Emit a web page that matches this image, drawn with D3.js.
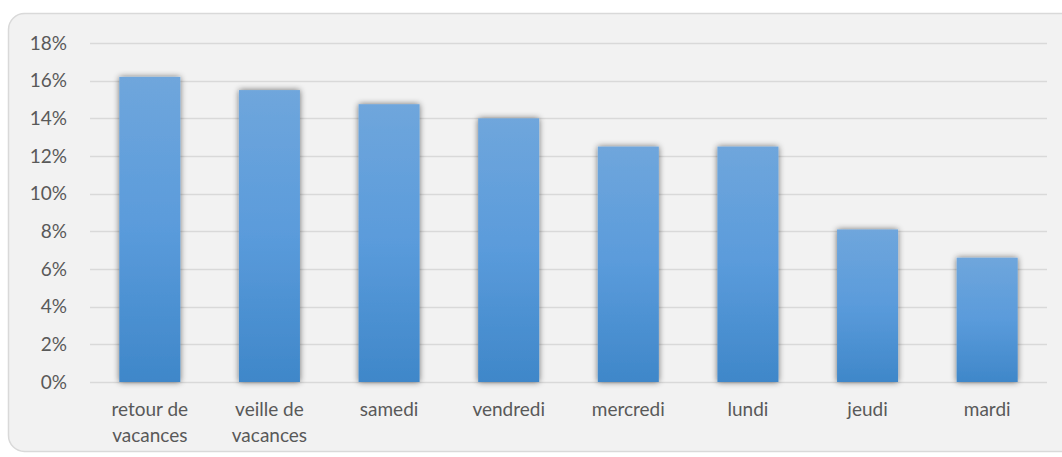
<!DOCTYPE html>
<html>
<head>
<meta charset="utf-8">
<script src="https://cdn.jsdelivr.net/npm/d3@7"></script>
<style>
body { margin: 0; background: #fff; }
svg { display: block; font-family: Lato, "Open Sans", sans-serif; }
</style>
</head>
<body>
<svg width="1062" height="457"></svg>
<script>
var categories = ["retour de vacances", "veille de vacances", "samedi", "vendredi", "mercredi", "lundi", "jeudi", "mardi"];
var values = [16.2, 15.5, 14.75, 14.0, 12.5, 12.5, 8.1, 6.6];
var tickValues = [0, 2, 4, 6, 8, 10, 12, 14, 16, 18];

var svg = d3.select("svg");
var margin = { top: 43, right: 15, bottom: 75, left: 90 },
	width = 1047 - margin.left,
	height = 382 - margin.top;

var defs = svg.append("defs");
var grad = defs.append("linearGradient")
	.attr("id", "barGrad")
	.attr("x1", 0).attr("y1", 0).attr("x2", 0).attr("y2", 1);
grad.append("stop").attr("offset", "0%").attr("stop-color", "#6fa6dc");
grad.append("stop").attr("offset", "50%").attr("stop-color", "#5a9bdb");
grad.append("stop").attr("offset", "100%").attr("stop-color", "#3f87c9");

var shadow = defs.append("filter").attr("id", "shadow")
	.attr("x", "-30%").attr("y", "-10%").attr("width", "160%").attr("height", "120%");
shadow.append("feGaussianBlur").attr("in", "SourceAlpha").attr("stdDeviation", 3);
shadow.append("feOffset").attr("dx", 0).attr("dy", 0).attr("result", "blur");
shadow.append("feComponentTransfer").append("feFuncA").attr("type", "linear").attr("slope", 0.55);
var merge = shadow.append("feMerge");
merge.append("feMergeNode");
merge.append("feMergeNode").attr("in", "SourceGraphic");

// panel
svg.append("rect")
	.attr("x", 8.5).attr("y", 13.5)
	.attr("width", 1070).attr("height", 438)
	.attr("rx", 16).attr("ry", 16)
	.attr("fill", "#f2f2f2")
	.attr("stroke", "#d9d9d9")
	.attr("stroke-width", 1.5);

var g = svg.append("g").attr("transform", "translate(" + margin.left + "," + margin.top + ")");

var xScale = d3.scaleBand()
	.domain(categories)
	.range([0, width])
	.paddingInner(0.49)
	.paddingOuter(0.245);

var yScale = d3.scaleLinear()
	.domain([0, 18])
	.range([height, 0]);

// gridlines
g.selectAll(".grid")
	.data(tickValues)
	.enter().append("line")
		.attr("class", "grid")
		.attr("x1", 0)
		.attr("x2", width)
		.attr("y1", function(d) { return Math.round(yScale(d)) + 0.5; })
		.attr("y2", function(d) { return Math.round(yScale(d)) + 0.5; })
		.attr("stroke", "#d9d9d9")
		.attr("stroke-width", 1.5);

var yAxis = d3.axisLeft(yScale)
	.tickValues(tickValues)
	.tickSize(0)
	.tickPadding(23)
	.tickFormat(function(d) { return d + "%"; });

var yG = g.append("g").call(yAxis);
yG.select(".domain").remove();
yG.selectAll("text")
	.attr("fill", "#595959")
	.style("font-size", "19px")
	.style("font-family", "Lato, 'Open Sans', sans-serif");

// bars
g.selectAll(".bar")
	.data(values)
	.enter().append("rect")
		.attr("class", "bar")
		.attr("x", function(d, i) { return xScale(categories[i]); })
		.attr("width", xScale.bandwidth())
		.attr("y", function(d) { return yScale(d); })
		.attr("height", function(d) { return height - yScale(d); })
		.attr("fill", "url(#barGrad)")
		.attr("filter", "url(#shadow)");

// category labels (wrapped)
var labels = g.selectAll(".cat")
	.data(categories)
	.enter().append("text")
		.attr("class", "cat")
		.attr("x", function(d) { return xScale(d) + xScale.bandwidth() / 2; })
		.attr("y", height + 34)
		.attr("text-anchor", "middle")
		.attr("fill", "#595959")
		.style("font-size", "19px");

labels.each(function(d) {
	var parts = d.indexOf(" de ") > 0 ? [d.slice(0, d.indexOf(" de ") + 3), d.slice(d.indexOf(" de ") + 4)] : [d];
	var t = d3.select(this);
	parts.forEach(function(p, k) {
		t.append("tspan")
			.attr("x", t.attr("x"))
			.attr("dy", k === 0 ? 0 : 26)
			.text(p);
	});
});
</script>
</body>
</html>
